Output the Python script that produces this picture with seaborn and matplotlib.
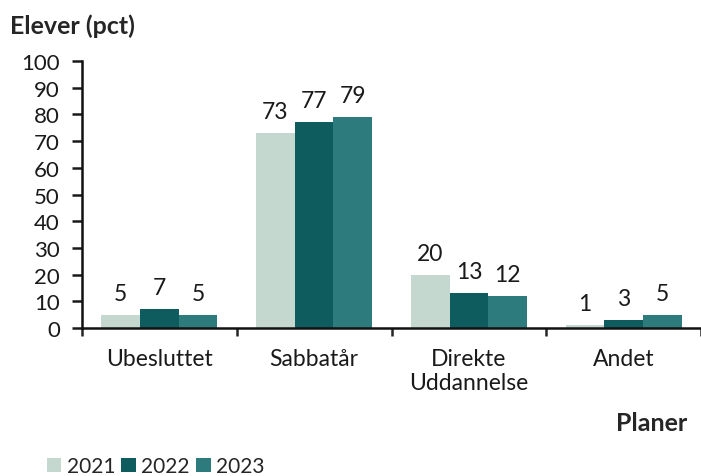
import numpy as np
import pandas as pd
import matplotlib.pyplot as plt
import seaborn as sbn

# Elevernes planer efter gymnasiet, andel i pct.
planer = ['Ubesluttet', 'Sabbatår', 'Direkte\nUddannelse', 'Andet']
aar = ['2021', '2022', '2023']
vaerdier_2021 = [5, 73, 20, 1]
vaerdier_2022 = [7, 77, 13, 3]
vaerdier_2023 = [5, 79, 12, 5]

farver = ['#c5d8cf', '#0f5c5e', '#2e7b7d']

data = pd.DataFrame({
    'plan': planer * 3,
    'aar': [a for a in aar for _ in planer],
    'pct': vaerdier_2021 + vaerdier_2022 + vaerdier_2023,
})

sbn.set_style('white')
plt.rcParams['font.family'] = ['Lato', 'DejaVu Sans']

fig = plt.figure(figsize=(7.01, 4.77), dpi=100)
ax = fig.add_axes([0.117, 0.310, 0.883, 0.560])

sbn.barplot(data=data, x='plan', y='pct', hue='aar', palette=farver,
            width=0.75, gap=0, saturation=1, linewidth=0, ax=ax)

for cont in ax.containers:
    ax.bar_label(cont, padding=8, fontsize=16.5, color='#1a1a1a')

ax.set_xlim(-0.5, 3.5)
ax.set_ylim(0, 100)
ax.set_yticks(range(0, 101, 10))
ax.tick_params(axis='y', labelsize=16, length=7, width=1.8, direction='out',
               left=True, pad=9, colors='#1a1a1a')
ax.set_xticks(range(len(planer)))
ax.set_xticklabels(planer, fontsize=16.5, linespacing=1.2)
ax.tick_params(axis='x', which='major', length=0, pad=14, colors='#1a1a1a')
ax.set_xticks(np.arange(-0.5, 3.6, 1), minor=True)
ax.tick_params(axis='x', which='minor', length=6, width=1.8, direction='out',
               bottom=True)

for s in ['top', 'right']:
    ax.spines[s].set_visible(False)
for s in ['left', 'bottom']:
    ax.spines[s].set_linewidth(1.8)
    ax.spines[s].set_color('#111111')

ax.set_xlabel('')
ax.set_ylabel('')

fig.text(0.014, 0.945, 'Elever (pct)', fontsize=18, fontweight='bold',
         ha='left', va='center')
fig.text(0.980, 0.113, 'Planer', fontsize=18, fontweight='bold',
         ha='right', va='center')

handles, labels = ax.get_legend_handles_labels()
ax.legend(handles, labels, loc='center left', bbox_to_anchor=(0.052, 0.020),
          bbox_transform=fig.transFigure, ncol=3, frameon=False, fontsize=15,
          handlelength=0.7, handleheight=0.7, handletextpad=0.25,
          columnspacing=0.3, borderpad=0)

plt.savefig('out.png', dpi=100)
